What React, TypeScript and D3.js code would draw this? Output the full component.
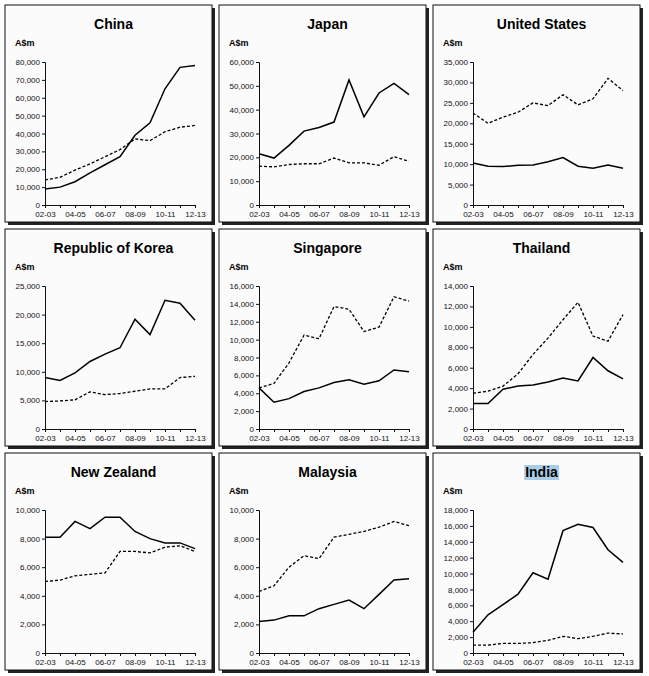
import React, { useRef, useEffect } from 'react';
import * as d3 from 'd3';

const years = ['02-03', '03-04', '04-05', '05-06', '06-07', '07-08', '08-09', '09-10', '10-11', '11-12', '12-13'];
const countries = ['China', 'Japan', 'United States', 'Republic of Korea', 'Singapore', 'Thailand', 'New Zealand', 'Malaysia', 'India'];
const yMax = [80000, 60000, 35000, 25000, 16000, 14000, 10000, 10000, 18000];
const yStep = [10000, 10000, 5000, 5000, 2000, 2000, 2000, 2000, 2000];
const solidSeries = [
  [9000, 10000, 13000, 18000, 22500, 27000, 39000, 46000, 65000, 77000, 78000],
  [21500, 19700, 25000, 31000, 32500, 34800, 52500, 37000, 47000, 51000, 46300],
  [10300, 9500, 9400, 9700, 9800, 10600, 11600, 9500, 9000, 9800, 9000],
  [9000, 8500, 9800, 11800, 13100, 14200, 19200, 16500, 22500, 22000, 19000],
  [4600, 3000, 3400, 4200, 4600, 5200, 5500, 5000, 5400, 6600, 6400],
  [2500, 2500, 3900, 4200, 4300, 4600, 5000, 4700, 7000, 5700, 4900],
  [8100, 8100, 9200, 8700, 9500, 9500, 8500, 8000, 7700, 7700, 7300],
  [2200, 2300, 2600, 2600, 3100, 3400, 3700, 3100, 4100, 5100, 5200],
  [2600, 4800, 6100, 7400, 10100, 9300, 15400, 16200, 15800, 13000, 11400],
];
const dashedSeries = [
  [14000, 15500, 19500, 23000, 27000, 31000, 37000, 36000, 41000, 43500, 44500],
  [16300, 16000, 17000, 17300, 17300, 19700, 17700, 17700, 16700, 20300, 18300],
  [22500, 20000, 21500, 22700, 25000, 24300, 27000, 24500, 26000, 31000, 28000],
  [4800, 4900, 5100, 6500, 6000, 6200, 6600, 7000, 7000, 9000, 9200],
  [4600, 5100, 7400, 10500, 10100, 13700, 13400, 10900, 11400, 14800, 14300],
  [3500, 3700, 4200, 5400, 7300, 8900, 10700, 12400, 9100, 8600, 11200],
  [5000, 5100, 5400, 5500, 5600, 7100, 7100, 7000, 7400, 7500, 7100],
  [4300, 4700, 6000, 6800, 6600, 8100, 8300, 8500, 8800, 9200, 8900],
  [1000, 1000, 1200, 1200, 1300, 1600, 2100, 1800, 2100, 2500, 2400],
];

const PW = 207, PH = 217;
const colX = [5, 219, 433];
const rowY = [5, 229, 453];

export default function App() {
  const ref = useRef<SVGSVGElement | null>(null);

  useEffect(() => {
    if (!ref.current) return;
    const svg = d3.select(ref.current);
    svg.selectAll('*').remove();
    svg.append('rect').attr('width', 649).attr('height', 676).attr('fill', '#fff');

    countries.forEach((name, i) => {
      const g = svg.append('g').attr('transform', `translate(${colX[i % 3]},${rowY[Math.floor(i / 3)]})`);
      g.append('rect').attr('x', 3).attr('y', 3).attr('width', PW).attr('height', PH).attr('fill', '#222');
      g.append('rect').attr('width', PW).attr('height', PH).attr('fill', '#fbfbfb').attr('stroke', '#111').attr('stroke-width', 1);

      const left = 40, right = 190, top = 57, bottom = 200;
      const x = d3.scalePoint<string>().domain(years).range([left, right]);
      const y = d3.scaleLinear().domain([0, yMax[i]]).range([bottom, top]);

      const title = g.append('text').attr('x', PW / 2 + 5).attr('y', 24).attr('text-anchor', 'middle')
        .attr('font-family', 'Arial, Liberation Sans, sans-serif').attr('font-weight', 'bold').attr('font-size', 14)
        .text(name);
      if (name === 'India') {
        const bb = (title.node() as SVGTextElement).getBBox();
        g.insert('rect', 'text').attr('x', bb.x - 1).attr('y', bb.y + 1).attr('width', bb.width + 2).attr('height', bb.height - 1)
          .attr('fill', '#a9cde6');
      }
      g.append('text').attr('x', 10).attr('y', 41)
        .attr('font-family', 'Arial, Liberation Sans, sans-serif').attr('font-weight', 'bold').attr('font-size', 9)
        .text('A$m');

      const ya = g.append('g').attr('transform', `translate(${left},0)`)
        .call(d3.axisLeft(y).tickValues(d3.range(0, yMax[i] + 1, yStep[i])).tickSize(3).tickFormat(d3.format(',')));
      const xa = g.append('g').attr('transform', `translate(0,${bottom})`)
        .call(d3.axisBottom(x).tickSize(3).tickFormat((d, k) => (k % 2 === 0 ? d : '')));
      [ya, xa].forEach(a => {
        a.selectAll('text').attr('font-family', 'Arial, Liberation Sans, sans-serif').attr('font-size', 8).attr('fill', '#111');
        a.selectAll('line,path').attr('stroke', '#111');
      });
      ya.selectAll('text').attr('x', -5);

      const line = d3.line<number>().x((_, k) => x(years[k])!).y(d => y(d));
      g.append('path').datum(solidSeries[i]).attr('d', line).attr('fill', 'none').attr('stroke', '#000').attr('stroke-width', 1.5);
      g.append('path').datum(dashedSeries[i]).attr('d', line).attr('fill', 'none').attr('stroke', '#000')
        .attr('stroke-width', 1.3).attr('stroke-dasharray', '3,2');
    });
  }, []);

  return <svg ref={ref} width={649} height={676} style={{ position: 'absolute', left: 0, top: 0 }} />;
}
